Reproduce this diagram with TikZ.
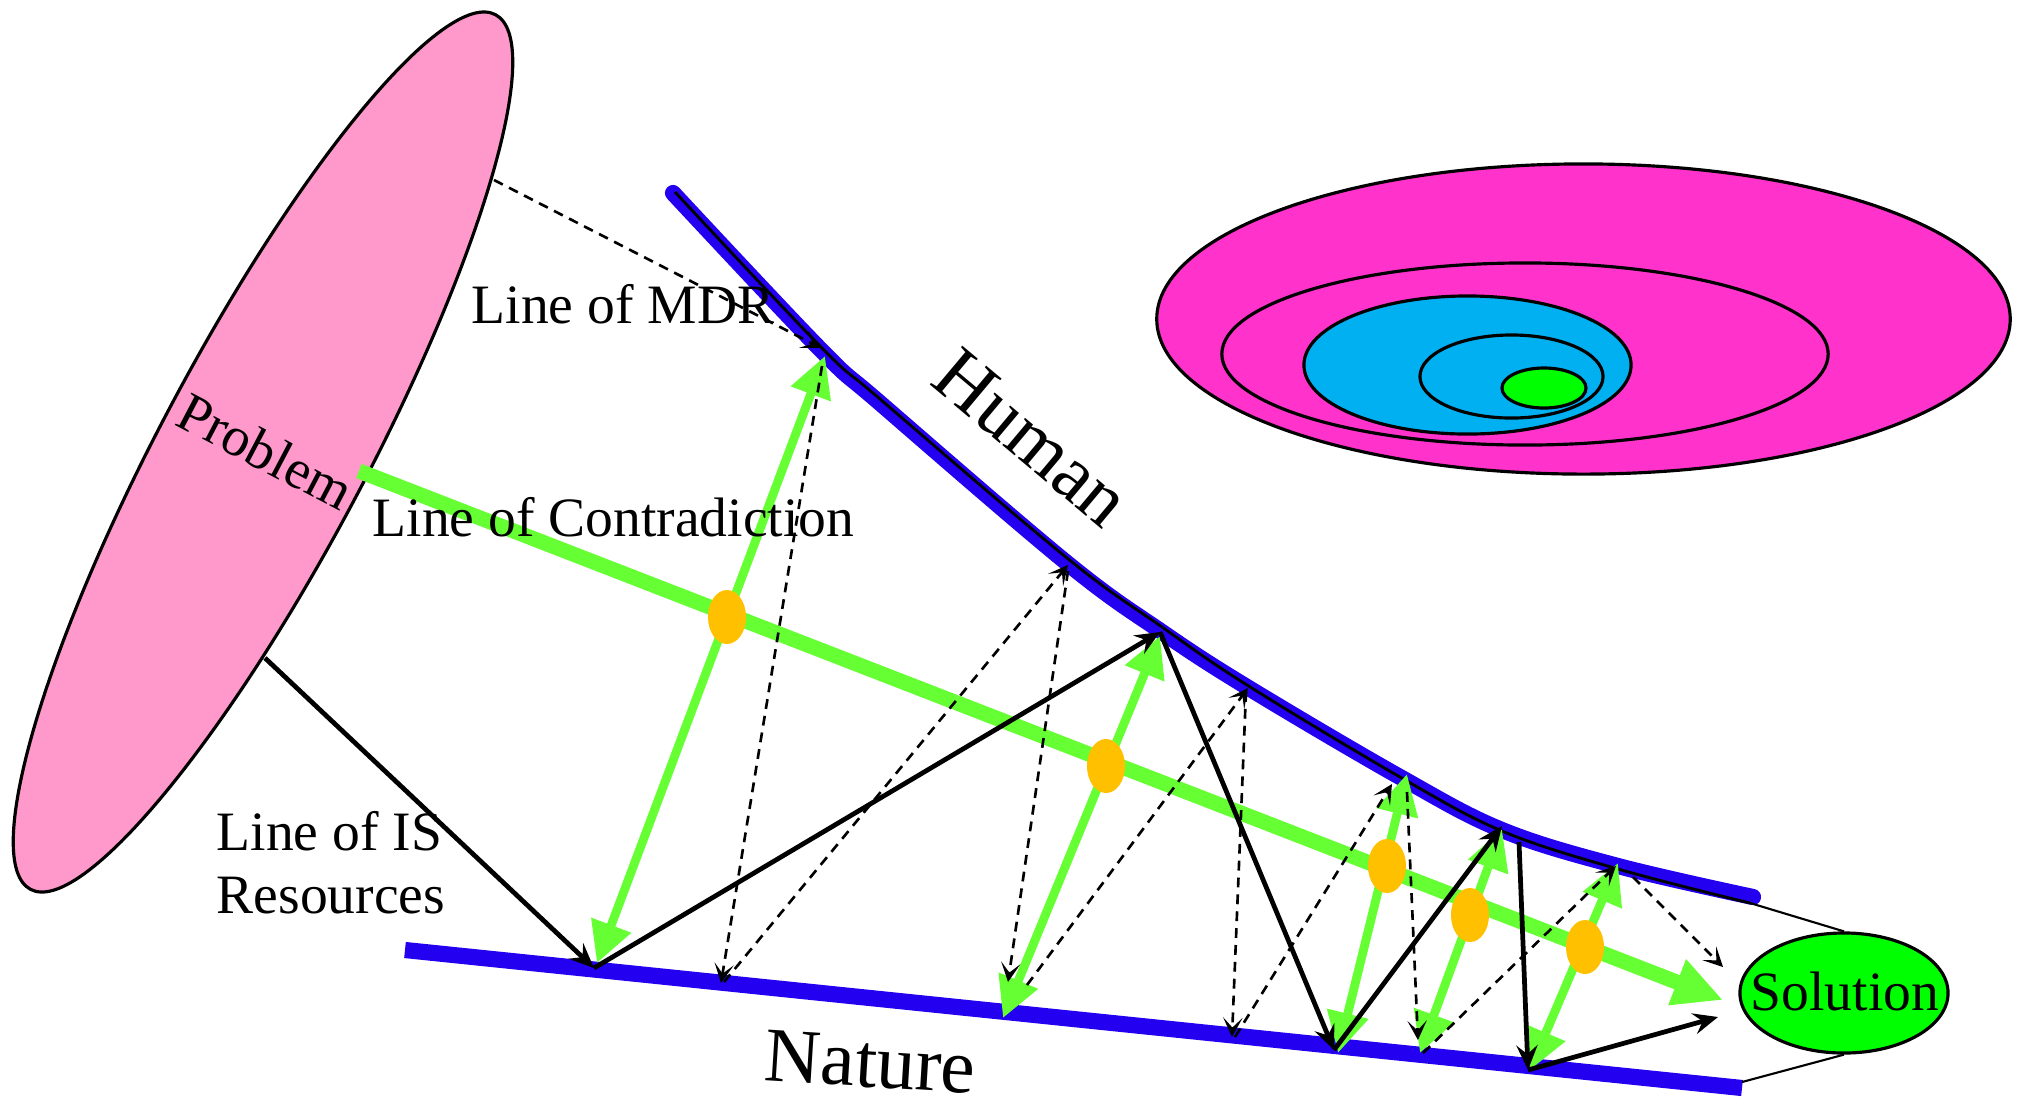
\documentclass[tikz,border=0pt]{standalone}
\usepackage{fontspec}
\setmainfont{Liberation Serif}
\usetikzlibrary{arrows.meta,shapes.geometric}
\definecolor{pinkp}{RGB}{255,153,204}
\definecolor{blueln}{RGB}{36,0,240}
\definecolor{greenln}{RGB}{102,255,51}
\definecolor{orangedot}{RGB}{255,192,0}
\definecolor{magentae}{RGB}{255,51,204}
\definecolor{cyane}{RGB}{0,176,240}
\definecolor{solgreen}{RGB}{0,255,0}
\begin{document}
\begin{tikzpicture}[x=0.01cm,y=-0.01cm,
  lbl/.style={font=\fontsize{15.8}{18}\selectfont, inner sep=0pt},
  bigl/.style={font=\fontsize{22}{25}\selectfont, inner sep=0pt},
  natureln/.style={draw=blueln, line width=4.6pt},
  humanln/.style={draw=blueln, line width=4.6pt, line cap=round},
  thinblk/.style={draw=black, line width=0.6pt},
  curveblk/.style={draw=black, line width=0.8pt},
  mainarrow/.style={draw=greenln, line width=4.3pt, -{Triangle[length=14pt,width=13pt]}},
  gdouble/.style={draw=greenln, line width=2.5pt, {Triangle[length=11.5pt,width=11.5pt]}-{Triangle[length=11.5pt,width=11.5pt]}},
  odot/.style={ellipse, fill=orangedot, minimum width=0.38cm, minimum height=0.54cm, inner sep=0pt},
  solidarr/.style={draw=black, line width=1.35pt, -{Stealth[length=7pt,width=6pt,inset=2.5pt]}},
  dasharr/.style={draw=black, line width=0.75pt, dash pattern=on 2.8pt off 2pt, -{Stealth[length=5.5pt,width=5.5pt,inset=2.8pt]}},
  ring/.style={ellipse, draw=black, line width=0.9pt, inner sep=0pt},
]
\fill[white] (0,0) rectangle (2017,1105);
\useasboundingbox (0,0) rectangle (2017,1105);

% ---- top right nested ellipses
\node[ring, fill=magentae, minimum width=8.53cm, minimum height=3.10cm] (e1) at (1583.5,319) {};
\node[ring, fill=magentae, minimum width=6.06cm, minimum height=1.82cm] (e2) at (1525,354) {};
\node[ring, fill=cyane, minimum width=3.27cm, minimum height=1.38cm] (e3) at (1467.5,365) {};
\node[ring, fill=cyane, minimum width=1.83cm, minimum height=0.83cm] (e4) at (1511.5,376.5) {};
\node[ring, fill=solgreen, minimum width=0.84cm, minimum height=0.40cm] (e5) at (1544,388) {};

% ---- problem ellipse
\node[ring, fill=pinkp, minimum width=9.9cm, minimum height=2.06cm, rotate=62] (prob) at (263,452) {};

% ---- solution ellipse
\node[ring, fill=solgreen, minimum width=2.08cm, minimum height=1.2cm] (sol) at (1844,993) {};

% ---- coordinates
\coordinate (H0) at (673,193);
\coordinate (H1) at (821,350);
\coordinate (H2) at (880,403);
\coordinate (H3) at (1067,563);
\coordinate (H4) at (1162,632);
\coordinate (H5) at (1247,687);
\coordinate (H6) at (1400,777);
\coordinate (H7) at (1502,830);
\coordinate (H8) at (1618,866);
\coordinate (H9) at (1753,897);

\coordinate (K0) at (675,192);
\coordinate (K1) at (821,347);
\coordinate (K2) at (880,399);
\coordinate (K3) at (1067,558);
\coordinate (K4) at (1162,627);
\coordinate (K5) at (1247,685);
\coordinate (K6) at (1400,777);
\coordinate (K7) at (1502,831);
\coordinate (K8) at (1618,869);
\coordinate (K9) at (1750,903);

\coordinate (N0) at (405,950);
\coordinate (N9) at (1742,1088);
\coordinate (N9b) at (1742,1082);

\coordinate (PB) at (265,658);
\coordinate (A1) at (594,968);
\coordinate (B1) at (1160,632);
\coordinate (A2) at (1334,1050);
\coordinate (B2) at (1502,826);
\coordinate (B3) at (1519,842);
\coordinate (A3) at (1528,1070);
\coordinate (S1) at (1718,1017);

\coordinate (G1t) at (825,356);   \coordinate (G1b) at (597,963);
\coordinate (G2t) at (1160,636);  \coordinate (G2b) at (1003,1018);
\coordinate (G3t) at (1407,774);  \coordinate (G3b) at (1338,1053);
\coordinate (G4t) at (1502,829);  \coordinate (G4b) at (1420,1053);
\coordinate (G5t) at (1618,863);  \coordinate (G5b) at (1530,1070);
\coordinate (GM0) at (359,471);   \coordinate (GM1) at (1723,1000);

\coordinate (Das) at (494,180);   \coordinate (Dae) at (821,348);
\coordinate (Dbs) at (822,366);   \coordinate (Dbe) at (721,983);
\coordinate (Dcs) at (724,982);   \coordinate (Dce) at (1068,565);
\coordinate (Dds) at (1068,571);  \coordinate (Dde) at (1008,982);
\coordinate (Des) at (1027,985);  \coordinate (Dee) at (1248,688);
\coordinate (Dfs) at (1246,692);  \coordinate (Dfe) at (1232,1037);
\coordinate (Dgs) at (1235,1037); \coordinate (Dge) at (1392,784);
\coordinate (Dhs) at (1407,792);  \coordinate (Dhe) at (1418,1040);
\coordinate (Dis) at (1423,1053); \coordinate (Die) at (1616,866);
\coordinate (Djs) at (1633,877);  \coordinate (Dje) at (1723,967);

% ---- base lines
\draw[natureln] (N0) -- (N9);
\draw[humanln] plot[smooth, tension=0.6] coordinates {(H0) (H1) (H2) (H3) (H4) (H5) (H6) (H7) (H8) (H9)};
\draw[curveblk] plot[smooth, tension=0.6] coordinates {(K0) (K1) (K2) (K3) (K4) (K5) (K6) (K7) (K8) (K9)};
\draw[thinblk] (K9) -- (sol.north);
\draw[thinblk] (N9b) -- (sol.south);

% ---- green line of contradiction
\draw[mainarrow] (GM0) -- (GM1);
\draw[gdouble] (G1b) -- (G1t);
\draw[gdouble] (G2b) -- (G2t);
\draw[gdouble] (G3b) -- (G3t);
\draw[gdouble] (G4b) -- (G4t);
\draw[gdouble] (G5b) -- (G5t);

% ---- orange dots
\node[odot] (o1) at (727,617) {};
\node[odot] (o2) at (1106,766) {};
\node[odot] (o3) at (1387,866) {};
\node[odot] (o4) at (1470,915) {};
\node[odot] (o5) at (1585,947) {};

% ---- solid black zigzag
\draw[solidarr] (PB) -- (A1);
\draw[solidarr] (A1) -- (B1);
\draw[solidarr] (B1) -- (A2);
\draw[solidarr] (A2) -- (B2);
\draw[solidarr] (B3) -- (A3);
\draw[solidarr] (A3) -- (S1);

% ---- dashed zigzag
\draw[dasharr] (Das) -- (Dae);
\draw[dasharr] (Dbs) -- (Dbe);
\draw[dasharr] (Dcs) -- (Dce);
\draw[dasharr] (Dds) -- (Dde);
\draw[dasharr] (Des) -- (Dee);
\draw[dasharr] (Dfs) -- (Dfe);
\draw[dasharr] (Dgs) -- (Dge);
\draw[dasharr] (Dhs) -- (Dhe);
\draw[dasharr] (Dis) -- (Die);
\draw[dasharr] (Djs) -- (Dje);

% ---- labels
\node[lbl, anchor=base west] (tmdr) at (471,323) {Line of MDR};
\node[lbl, anchor=base west] (tcon) at (372,536) {Line of Contradiction};
\node[lbl, anchor=base, rotate=-27.7] (tprob) at (257,468) {Problem};
\node[bigl, anchor=base, rotate=-40] (thum) at (1016,457) {Human};
\node[lbl, anchor=base west] (tis1) at (216,850) {Line of IS};
\node[lbl, anchor=base west] (tis2) at (216,913) {Resources};
\node[bigl, anchor=base, rotate=-3.6] (tnat) at (869,1087) {Nature};
\node[lbl, anchor=base] (tsol) at (1845,1010) {Solution};
\end{tikzpicture}
\end{document}
